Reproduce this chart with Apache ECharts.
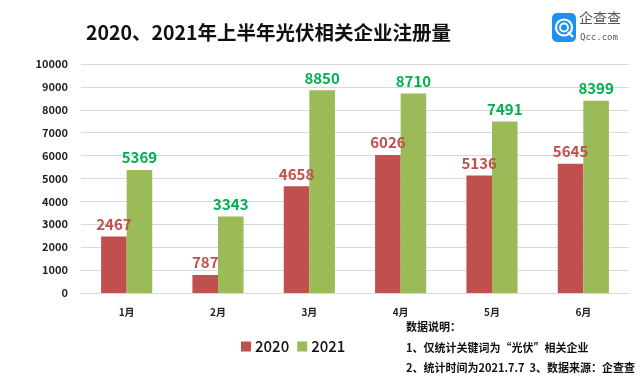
<!DOCTYPE html>
<html><head><meta charset="utf-8">
<script src="https://cdn.jsdelivr.net/npm/echarts@6/dist/echarts.min.js"></script>
<style>html,body{margin:0;padding:0;background:#fff}#c{width:643px;height:391px}</style>
</head><body><div id="c"></div>
<script>
var categories = ['1月','2月','3月','4月','5月','6月'];
var s2020 = [2467, 787, 4658, 6026, 5136, 5645];
var s2021 = [5369, 3343, 8850, 8710, 7491, 8399];
var yMax = 10000, yStep = 1000;
var FONT = '"Noto Sans CJK SC", "Noto Sans", sans-serif';
var chart = echarts.init(document.getElementById('c'));
chart.setOption({
  backgroundColor: '#fff',
  textStyle: {fontFamily: FONT},
  title: {
    text: '2020、2021年上半年光伏相关企业注册量',
    left: 81, top: 18,
    textStyle: {fontSize: 19.5, fontWeight: 'bold', color: '#111', fontFamily: FONT}
  },
  legend: {
    data: ['2020','2021'],
    left: 236, top: 334,
    itemWidth: 10, itemHeight: 10, itemGap: 8,
    icon: 'rect',
    textStyle: {fontSize: 15, fontWeight: 500, color: '#111', fontFamily: FONT, padding: [0,0,0,-1]}
  },
  grid: {left: 81, right: 14, top: 64, bottom: 98},
  xAxis: {
    type: 'category', data: categories,
    axisLine: {lineStyle: {color: '#d9d9d9'}},
    axisTick: {show: false},
    axisLabel: {fontSize: 10, fontWeight: 'bold', color: '#222', margin: 14, fontFamily: FONT}
  },
  yAxis: {
    type: 'value', min: 0, max: yMax, interval: yStep,
    axisLine: {show: false}, axisTick: {show: false},
    splitLine: {lineStyle: {color: '#d9d9d9'}},
    axisLabel: {fontSize: 11, fontWeight: 'bold', color: '#222', margin: 13, fontFamily: FONT,
      formatter: function (v) { return String(v); }}
  },
  series: [
    {name: '2020', type: 'bar', data: s2020, barGap: '0%', barCategoryGap: '44%',
     itemStyle: {color: '#c0504d'},
     label: {show: true, position: 'top', distance: 5, fontSize: 15, fontWeight: 'bold', color: '#c0504d', fontFamily: FONT}},
    {name: '2021', type: 'bar', data: s2021, barGap: '0%', barCategoryGap: '44%',
     itemStyle: {color: '#9bbb59'},
     label: {show: true, position: 'top', distance: 5, fontSize: 15, fontWeight: 'bold', color: '#00b050', fontFamily: FONT}}
  ],
  graphic: [
    {type: 'rect', left: 552, top: 13, shape: {width: 24, height: 29, r: 5}, style: {fill: '#1e90f0'}},
    {type: 'circle', shape: {cx: 564, cy: 27.5, r: 8}, style: {fill: 'none', stroke: '#fff', lineWidth: 2.2}},
    {type: 'circle', shape: {cx: 564, cy: 27.5, r: 4}, style: {fill: 'none', stroke: '#fff', lineWidth: 1.8}},
    {type: 'line', shape: {x1: 568, y1: 32, x2: 573, y2: 37}, style: {stroke: '#fff', lineWidth: 2.2}},
    {type: 'text', left: 579, top: 11, style: {text: '企查查', fontSize: 14, fill: '#555', fontFamily: FONT}},
    {type: 'text', left: 580, top: 33, style: {text: 'Qcc.com', fontSize: 9, fill: '#555', fontFamily: '"DejaVu Sans Mono", monospace'}},
    {type: 'text', left: 406, top: 321, style: {text: '数据说明：', fontSize: 11, fontWeight: 'bold', fill: '#111', fontFamily: FONT}},
    {type: 'text', left: 406, top: 342, style: {text: '1、仅统计关键词为“光伏”相关企业', fontSize: 11, fontWeight: 'bold', fill: '#111', fontFamily: FONT}},
    {type: 'text', left: 406, top: 362, style: {text: '2、统计时间为2021.7.7  3、数据来源：企查查', fontSize: 11, fontWeight: 'bold', fill: '#111', fontFamily: FONT}}
  ]
});
</script></body></html>
